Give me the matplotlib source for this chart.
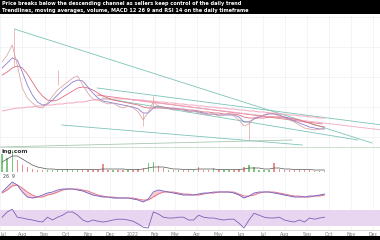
import matplotlib
matplotlib.use("Agg")
import matplotlib.pyplot as plt
import numpy as np
import pandas as pd

# weekly samples (price in cents)
start = "2021-07-04"
close = [85, 92, 102, 82, 59, 49, 44, 40, 39, 44, 51, 57, 61, 65, 69, 71, 62, 54, 48, 47,
         45, 43, 44, 41, 39, 41, 39, 35, 27, 35, 45, 41, 39, 39, 37, 38, 37, 35, 36, 34,
         33, 32, 33, 31, 32, 34, 31, 27, 21, 23, 29, 31, 32, 34, 33, 31, 29, 27, 25, 22,
         19, 18, 17, 18, 19]
ma_fast = [79, 84, 89, 87, 75, 62, 52, 45, 42, 43, 47, 52, 57, 61, 65, 67, 66, 60, 54, 49,
           46, 45, 44, 43, 42, 41, 40, 38, 34, 34, 39, 41, 40, 39, 38, 38, 37, 36, 36, 35,
           34, 33, 33, 32, 32, 32, 32, 30, 25, 25, 28, 30, 32, 33, 33, 32, 30, 28, 26, 24,
           22, 20, 19, 18, 18]
ma_slow = [72, 75, 79, 81, 79, 73, 65, 57, 51, 47, 46, 47, 50, 53, 56, 59, 60, 59, 57, 54,
           51, 49, 47, 46, 45, 44, 43, 42, 40, 39, 39, 39, 39, 39, 39, 38, 38, 37, 37, 36,
           35, 35, 34, 34, 33, 33, 33, 32, 30, 29, 29, 29, 29, 30, 30, 30, 30, 29, 28, 27,
           25, 24, 22, 21, 20]
ma_long = [36, 37, 38, 39, 39, 40, 40, 41, 41, 42, 42, 43, 43, 44, 44, 45, 45, 46, 47, 47,
           48, 48, 48, 48, 48, 48, 47, 47, 47, 46, 46, 45, 45, 44, 44, 43, 43, 42, 42, 41,
           41, 40, 40, 39, 39, 38, 38, 37, 37, 36, 36, 35, 35, 34, 34, 33, 33, 32, 32, 31,
           31, 30, 30, 29, 29]
volume = [18, 14, 22, 12, 7, 5, 3, 2, 2, 2, 2, 2, 2, 3, 2, 2, 2, 2, 2, 2,
          8, 2, 2, 2, 2, 2, 2, 3, 4, 9, 10, 6, 4, 2, 2, 2, 2, 2, 2, 5,
          2, 2, 4, 2, 2, 2, 2, 3, 5, 7, 5, 2, 2, 2, 9, 3, 2, 2, 2, 2,
          2, 2, 1, 1, 1]
vol_ma = [10, 13, 16, 16, 13, 10, 7, 5, 4, 3, 3, 2.5, 2.5, 2.5, 2.5, 2.5, 2.5, 2.5, 2.5, 2.5,
          3, 3, 3, 3, 3, 2.5, 2.5, 2.5, 3, 4, 5, 5, 5, 4, 3, 3, 2.5, 2.5, 2.5, 3,
          3, 3, 3, 2.5, 2.5, 2.5, 2.5, 2.5, 3, 4, 4, 4, 3, 3, 4, 4, 3, 3, 2.5, 2.5,
          2.5, 2.5, 2, 2, 2]
macd = [-0.1, 0.4, 0.9, 0.6, -0.1, -0.6, -0.7, -0.6, -0.4, -0.2, -0.1, 0.1, 0.2, 0.2, 0.2, 0.1, 0.0, -0.2, -0.4, -0.5,
        -0.6, -0.6, -0.7, -0.7, -0.7, -0.7, -0.8, -0.9, -1.1, -0.8, -0.1, 0.1, 0.0, -0.1, -0.2, -0.3, -0.4, -0.4, -0.4, -0.3,
        -0.2, -0.2, -0.1, -0.1, -0.1, -0.1, -0.2, -0.4, -0.7, -0.5, -0.2, -0.1, -0.1, -0.1, -0.2, -0.3, -0.4, -0.5, -0.6, -0.6,
        -0.6, -0.5, -0.5, -0.4, -0.3]
signal = [-0.2, 0.1, 0.5, 0.6, 0.3, -0.1, -0.4, -0.6, -0.6, -0.4, -0.3, -0.1, 0.1, 0.2, 0.2, 0.2, 0.1, 0.0, -0.2, -0.4,
          -0.5, -0.6, -0.6, -0.7, -0.7, -0.7, -0.7, -0.8, -0.9, -0.9, -0.6, -0.3, -0.1, -0.1, -0.1, -0.2, -0.3, -0.3, -0.4, -0.4,
          -0.3, -0.2, -0.2, -0.1, -0.1, -0.1, -0.1, -0.3, -0.5, -0.5, -0.4, -0.2, -0.1, -0.1, -0.1, -0.2, -0.3, -0.4, -0.5, -0.5,
          -0.6, -0.6, -0.5, -0.5, -0.4]
rsi = [52, 65, 72, 52, 50, 47, 45, 42, 40, 52, 45, 52, 57, 65, 65, 57, 45, 40, 45, 42,
       40, 42, 45, 47, 47, 45, 42, 35, 27, 25, 65, 60, 52, 50, 50, 52, 52, 45, 45, 57,
       52, 50, 50, 47, 45, 47, 47, 37, 25, 45, 62, 57, 52, 50, 50, 52, 45, 42, 40, 45,
       40, 50, 47, 50, 52]

# long wicks
wick_dates = ["2021-07-20", "2021-09-19", "2022-01-16", "2022-01-30", "2022-06-12"]
wick_hi = [118, 77, 35, 51, 27]
wick_lo = [80, 62, 21, 39, 7]

# drawn trendlines: start date, start price, end date, end price, colour
trend_start = ["2021-07-21", "2021-11-13", "2021-11-20", "2021-09-25", "2021-07-01", "2021-11-13", "2022-01-01"]
trend_p0 = [118, 59, 49, 22, 0, 52, 47]
trend_end = ["2022-11-30", "2022-12-14", "2022-11-10", "2022-08-25", "2022-08-11", "2022-09-22", "2022-12-14"]
trend_p1 = [4, 22, 7, 2, 7, 23, 17]
trend_col = ["#7cc4b8", "#7cc4b8", "#7cc4b8", "#7cc4b8", "#a8c8b0", "#e07a8a", "#f0a8c0"]

month_ticks = pd.date_range("2021-07-01", "2022-12-01", freq="MS")
month_labels = ["Jul", "Aug", "Sep", "Oct", "Nov", "Dec", "2022", "Feb", "Mar", "Apr",
                "May", "Jun", "Jul", "Aug", "Sep", "Oct", "Nov", "Dec"]

dates = pd.date_range(start, periods=len(close), freq="7D")
xlim = (pd.Timestamp("2021-07-01"), pd.Timestamp("2022-12-11"))
grid_c = "#eef0f5"

fig = plt.figure(figsize=(3.8, 2.4), dpi=100)
H = 240.0


def panel(top, bottom):
    ax = fig.add_axes([0, 1 - bottom / H, 1, (bottom - top) / H])
    ax.set_xticks(month_ticks)
    ax.tick_params(length=0, labelbottom=False, labelleft=False)
    ax.grid(True, axis="x", color=grid_c, lw=0.5)
    ax.set_axisbelow(True)
    for s in ["top", "left", "right"]:
        ax.spines[s].set_visible(False)
    ax.spines["bottom"].set_color("#d0d0d0")
    ax.spines["bottom"].set_linewidth(0.6)
    return ax


# banner
ban = fig.add_axes([0, 1 - 14 / H, 1, 14 / H])
ban.set_facecolor("black")
ban.set_xticks([])
ban.set_yticks([])
for s in ban.spines.values():
    s.set_visible(False)
ban.text(0.005, 0.72, "Price breaks below the descending channel as sellers keep control of the daily trend",
         color="white", fontsize=3.6, fontweight="bold", va="center", ha="left")
ban.text(0.005, 0.25, "Trendlines, moving averages, volume, MACD 12 26 9 and RSI 14 on the daily timeframe",
         color="white", fontsize=3.6, fontweight="bold", va="center", ha="left")

# price panel
ax = panel(15, 147)
ax.set_ylim(0, 132)
ax.set_yticks([10, 40, 70, 100, 130])
ax.grid(True, axis="y", color=grid_c, lw=0.5)
ax.spines["bottom"].set_visible(False)
for d0, p0, d1, p1, c in zip(trend_start, trend_p0, trend_end, trend_p1, trend_col):
    ax.plot([pd.Timestamp(d0), pd.Timestamp(d1)], [p0, p1], color=c, lw=0.6)
ax.plot(dates, ma_long, color="#f2a7bd", lw=0.7)
ax.plot(dates, ma_slow, color="#e06c80", lw=0.6)
ax.plot(dates, ma_fast, color="#8a7fd0", lw=0.6)
ax.vlines(pd.to_datetime(wick_dates), wick_lo, wick_hi, color="#e8a0a0", lw=0.5)
ax.plot(dates, close, color="#d99a9a", lw=0.5)
ax.set_xlim(*xlim)

# volume panel
vax = panel(147, 172)
vax.set_ylim(0, 25)
up = np.r_[True, np.diff(close) >= 0]
vcol = np.where(up, "#5cb85c", "#e57373")
vax.bar(dates, volume, width=2.0, color=vcol, alpha=0.8)
vax.plot(dates, vol_ma, color="#555555", lw=0.5)
vax.axhline(25, color="#c8d8c8", lw=0.6)
vax.text(0.003, 0.82, "ing.com", transform=vax.transAxes, fontsize=4.2, fontweight="bold",
         color="#333333", va="center", ha="left")
vax.set_xlim(*xlim)

# MACD panel
max_ = panel(172, 203)
max_.set_ylim(-1.2, 1.9)
max_.fill_between(dates, macd, signal, color="#f28b9b", alpha=0.45, lw=0)
max_.plot(dates, signal, color="#e06c80", lw=0.6)
max_.plot(dates, macd, color="#6a5fc0", lw=0.6)
max_.text(0.008, 0.84, "26  9", transform=max_.transAxes, fontsize=3.3, color="#444444", va="center")
max_.set_xlim(*xlim)

# RSI panel
rax = panel(203, 230)
rax.set_ylim(20, 87.5)
rax.axhspan(30, 70, facecolor="#e8d6f0", lw=0, zorder=1)
rax.plot(dates, rsi, color="#7e5fb8", lw=0.6, zorder=3)
rax.set_xlim(*xlim)
rax.tick_params(labelbottom=True, labelsize=3.4, labelcolor="#777777", pad=1.5)
rax.set_xticklabels(month_labels)
rax.get_xticklabels()[0].set_horizontalalignment("left")

# bottom strip
bot = fig.add_axes([0, 0, 1, 4 / H])
bot.set_facecolor("black")
bot.set_xticks([])
bot.set_yticks([])
for s in bot.spines.values():
    s.set_visible(False)

fig.savefig("out.png", dpi=100)
